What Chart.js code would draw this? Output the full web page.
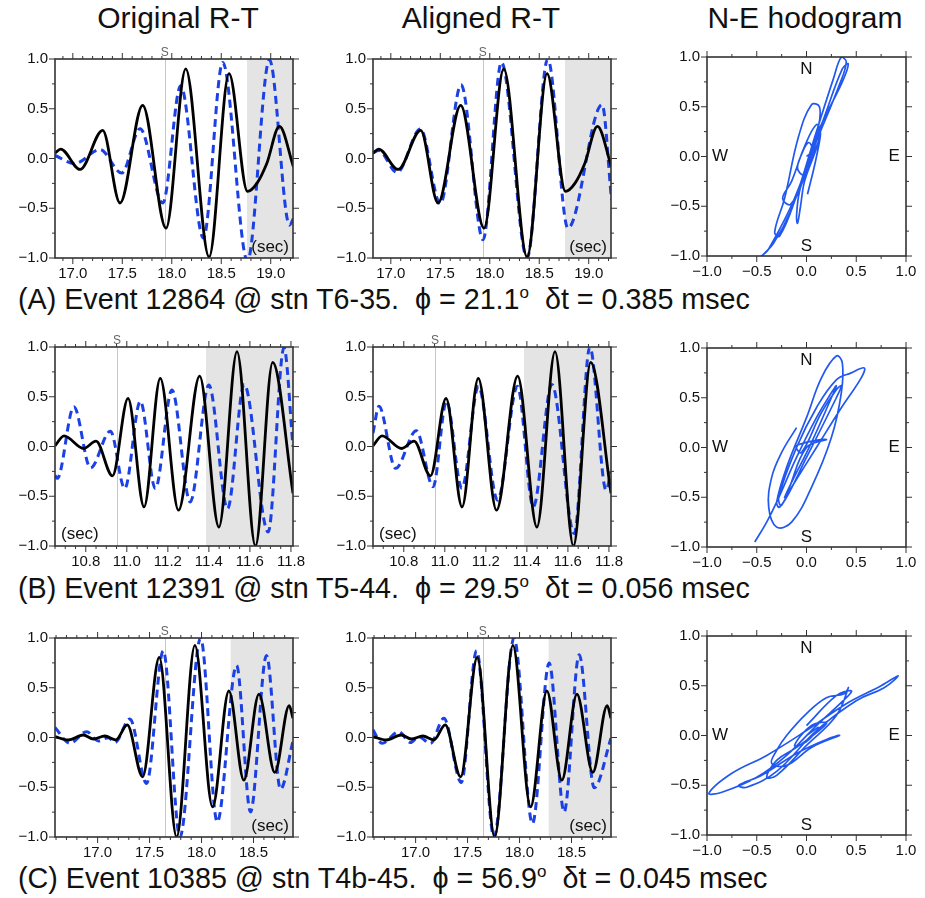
<!DOCTYPE html>
<html>
<head>
<meta charset="utf-8">
<script src="https://cdn.jsdelivr.net/npm/chart.js@4.4.0/dist/chart.umd.min.js"></script>
<style>
  body { margin: 0; width: 925px; height: 898px; overflow: hidden; background: #fff; position: relative;
         font-family: 'Liberation Sans', Arial, Helvetica, sans-serif; color: #111; }
  canvas { position: absolute; }
  .title { position: absolute; top: 3px; width: 320px; margin-left: -160px; text-align: center;
           font-size: 30px; line-height: 30px; }
  .caption { position: absolute; left: 18px; font-size: 28.7px; line-height: 28px; white-space: pre; }
  .deg { position: relative; top: -11px; font-size: 17px; }
</style>
</head>
<body>
<div class="title" style="left:178px">Original R-T</div>
<div class="title" style="left:481px">Aligned R-T</div>
<div class="title" style="left:805px">N-E hodogram</div>
<div class="caption" style="top:285px">(A) Event 12864 @ stn T6-35.  ϕ = 21.1<span class="deg">o</span>  δt = 0.385 msec</div>
<div class="caption" style="top:574px">(B) Event 12391 @ stn T5-44.  ϕ = 29.5<span class="deg">o</span>  δt = 0.056 msec</div>
<div class="caption" style="top:864px">(C) Event 10385 @ stn T4b-45.  ϕ = 56.9<span class="deg">o</span>  δt = 0.045 msec</div>

<script>
// ---- data (tijd in s, amplitude genormaliseerd) ----

// (A) event 12864
const blackA_t = [16.82, 16.877, 17.073, 17.302, 17.477, 17.706, 17.942, 18.141, 18.377, 18.579, 18.765, 18.86, 18.96, 19.088, 19.23];
const blackA_v = [0.055, 0.095, -0.11, 0.283, -0.447, 0.534, -0.70, 0.90, -0.99, 0.853, -0.33, -0.25, -0.05, 0.323, -0.085];
const blueA_t = [16.82, 17.022, 17.275, 17.494, 17.68, 17.909, 18.09, 18.32, 18.515, 18.765, 18.987, 19.19, 19.23];
const blueA_v = [0.03, -0.05, 0.09, -0.146, 0.30, -0.447, 0.732, -0.80, 0.966, -1.03, 0.993, -0.67, -0.60];
const blueAlignA_t = [16.82, 16.877, 17.063, 17.30, 17.50, 17.71, 17.932, 18.118, 18.377, 18.586, 18.79, 19.135, 19.23];
const blueAlignA_v = [0.055, 0.08, -0.14, 0.297, -0.454, 0.74, -0.816, 0.966, -1.0, 1.0, -0.70, 0.54, -0.414];
const hodoA = [[0,0],[0.06,0.06],[0.02,0.14],[-0.05,0.02],[-0.09,-0.12],[-0.03,-0.18],[0.06,0.02],[0.14,0.22],
  [0.1,0.32],[-0.02,0.1],[-0.15,-0.25],[-0.24,-0.42],[-0.16,-0.48],[-0.02,-0.2],[0.12,0.3],[0.13,0.5],[0.05,0.52],
  [-0.08,0.2],[-0.22,-0.42],[-0.32,-0.76],[-0.27,-0.8],[-0.12,-0.45],[0.1,0.25],[0.27,0.78],[0.35,1.0],[0.4,0.95],
  [0.33,0.72],[0.08,0.1],[-0.16,-0.55],[-0.33,-0.87],[-0.45,-1.0],[-0.38,-0.93],[-0.12,-0.42],[0.18,0.4],[0.36,0.88],
  [0.42,0.93],[0.36,0.75],[0.14,0.3],[0.04,0.0],[-0.07,-0.35],[-0.1,-0.6],[-0.09,-0.67],[-0.06,-0.5],[-0.02,-0.25],
  [0.1,0.08],[0.14,0.22],[0.09,-0.05],[0.01,-0.38]];

// (B) event 12391
const blackB_t = [10.65, 10.694, 10.79, 10.85, 10.93, 11.006, 11.084, 11.163, 11.252, 11.355, 11.449, 11.537, 11.627, 11.711, 11.81];
const blackB_v = [0.007, 0.107, -0.02, 0.054, -0.295, 0.483, -0.607, 0.685, -0.64, 0.708, -0.81, 0.953, -1.0, 0.846, -0.47];
const blueB_t = [10.65, 10.661, 10.742, 10.823, 10.92, 10.99, 11.066, 11.139, 11.22, 11.309, 11.40, 11.491, 11.572, 11.689, 11.766, 11.81];
const blueB_v = [-0.29, -0.32, 0.40, -0.215, 0.154, -0.423, 0.456, -0.423, 0.567, -0.557, 0.617, -0.624, 0.624, -0.86, 0.993, 0.0];
const blueAlignB_t = [10.65, 10.679, 10.76, 10.861, 10.943, 11.008, 11.083, 11.164, 11.257, 11.354, 11.431, 11.522, 11.631, 11.707, 11.786, 11.81];
const blueAlignB_v = [0.135, 0.404, -0.219, 0.158, -0.404, 0.455, -0.42, 0.606, -0.539, 0.606, -0.606, 0.623, -0.875, 1.0, -0.438, -0.25];
const hodoB = [[-0.52,-0.95],[-0.4,-0.75],[-0.3,-0.55],[-0.1,-0.1],[0.1,0.3],[0.25,0.55],[0.3,0.62],[0.25,0.5],
  [0.05,0.05],[-0.15,-0.35],[-0.22,-0.5],[-0.18,-0.42],[0.0,0.0],[0.2,0.08],[-0.1,0.02],[-0.05,-0.05],[0.15,0.35],
  [0.3,0.58],[0.35,0.62],[0.3,0.5],[0.0,-0.1],[-0.25,-0.58],[-0.28,-0.5],[-0.1,0.0],[0.1,0.4],[0.3,0.68],[0.45,0.75],
  [0.58,0.8],[0.55,0.7],[0.35,0.4],[0.1,0.0],[-0.15,-0.4],[-0.27,-0.6],[-0.3,-0.55],[-0.2,-0.2],[0.0,0.3],[0.15,0.7],
  [0.3,0.92],[0.36,0.85],[0.35,0.55],[0.25,0.1],[0.05,-0.4],[-0.15,-0.75],[-0.3,-0.8],[-0.38,-0.6],[-0.35,-0.3],
  [-0.25,-0.05],[-0.1,0.2]];

// (C) event 10385
const blackC_t = [16.59, 16.718, 16.862, 16.959, 17.07, 17.176, 17.285, 17.433, 17.593, 17.76, 17.936, 18.106, 18.263, 18.407, 18.552, 18.705, 18.843, 18.88];
const blackC_v = [0.008, -0.025, 0.025, -0.015, 0.015, -0.025, 0.126, -0.395, 0.805, -1.0, 0.926, -0.697, 0.469, -0.429, 0.435, -0.351, 0.321, 0.193];
const blueC_t = [16.59, 16.734, 16.894, 17.007, 17.103, 17.167, 17.311, 17.471, 17.632, 17.792, 17.991, 18.151, 18.337, 18.471, 18.625, 18.76, 18.88];
const blueC_v = [0.10, -0.059, 0.059, -0.035, -0.002, -0.05, 0.187, -0.462, 0.872, -1.0, 1.0, -0.849, 0.724, -0.748, 0.825, -0.519, -0.035];
const blueAlignC_t = [16.59, 16.677, 16.838, 16.95, 17.03, 17.143, 17.272, 17.439, 17.587, 17.754, 17.947, 18.124, 18.285, 18.429, 18.574, 18.719, 18.88];
const blueAlignC_v = [0.076, -0.059, 0.059, -0.05, 0.008, -0.059, 0.193, -0.452, 0.872, -1.0, 1.0, -0.866, 0.748, -0.748, 0.832, -0.506, -0.008];
const hodoC = [[0,0],[0.12,0.08],[0.0,-0.06],[-0.12,-0.1],[0.05,0.1],[0.2,0.12],[-0.1,-0.12],[-0.3,-0.25],[-0.4,-0.42],
  [-0.3,-0.4],[0.0,-0.1],[0.3,0.2],[0.42,0.48],[0.38,0.42],[0.2,0.38],[0.0,0.22],[-0.2,0.0],[-0.3,-0.15],[-0.35,-0.28],
  [-0.2,-0.3],[0.05,-0.12],[0.33,0.0],[0.2,-0.04],[-0.1,-0.18],[-0.45,-0.4],[-0.68,-0.5],[-0.6,-0.52],[-0.3,-0.36],
  [0.1,0.05],[0.5,0.35],[0.78,0.48],[0.92,0.6],[0.75,0.5],[0.4,0.32],[0.0,0.05],[-0.4,-0.2],[-0.75,-0.38],[-0.98,-0.58],
  [-0.85,-0.57],[-0.5,-0.42],[-0.2,-0.2],[0.1,0.1],[0.4,0.38],[0.45,0.45],[0.3,0.4],[0.0,0.1]];

// S-aankomst en grijs venster per event
const sPick = [17.93, 10.952, 17.645];
const shadeStart = [18.76, 11.386, 18.28];

// ---- stijl ----
const FONT = "'Liberation Sans', Arial, Helvetica, sans-serif";
const BLUE = '#1b40e4';
const HODO_BLUE = '#2158ef';

function fmtTick(v) {
  const s = (Math.abs(v) < 1e-9 ? 0 : v).toFixed(1);
  return s.replace('-', '\u2212');
}

function toPoints(t, v) {
  return t.map((x, i) => ({ x: x, y: v[i] }));
}

function tickVals(min, max, step) {
  const out = [];
  for (let k = Math.ceil(min / step - 1e-6); k * step <= max + 1e-6; k++) out.push(k * step);
  return out;
}

/* GMT-achtig kader: schaduw, S-lijn, kader met tickjes aan alle kanten, teksten */
const gmtFrame = {
  id: 'gmtFrame',
  beforeDatasetsDraw(chart, args, o) {
    const { ctx, chartArea: a, scales: { x } } = chart;
    ctx.save();
    if (o.shadeFrom != null) {
      const px = x.getPixelForValue(o.shadeFrom);
      ctx.fillStyle = '#e4e4e4';
      ctx.fillRect(px, a.top, a.right - px, a.bottom - a.top);
    }
    if (o.sLine != null) {
      const px = Math.round(x.getPixelForValue(o.sLine)) + 0.5;
      ctx.strokeStyle = '#c6c6c6';
      ctx.lineWidth = 1;
      ctx.beginPath(); ctx.moveTo(px, a.top); ctx.lineTo(px, a.bottom); ctx.stroke();
    }
    ctx.restore();
  },
  afterDraw(chart, args, o) {
    const { ctx, chartArea: a, scales: { x, y } } = chart;
    ctx.save();
    ctx.strokeStyle = '#333';
    ctx.lineWidth = 1;
    const isMajor = (v, m) => Math.abs(v / m - Math.round(v / m)) < 1e-6;
    tickVals(x.min, x.max, o.xMinor).forEach(v => {
      const px = x.getPixelForValue(v);
      const len = isMajor(v, o.xMajor) ? 6 : 3;
      ctx.beginPath();
      ctx.moveTo(px, a.bottom); ctx.lineTo(px, a.bottom + len);
      ctx.moveTo(px, a.top); ctx.lineTo(px, a.top - len);
      ctx.stroke();
    });
    tickVals(y.min, y.max, o.yMinor).forEach(v => {
      const py = y.getPixelForValue(v);
      const len = isMajor(v, o.yMajor) ? 6 : 3;
      ctx.beginPath();
      ctx.moveTo(a.left, py); ctx.lineTo(a.left - len, py);
      ctx.moveTo(a.right, py); ctx.lineTo(a.right + len, py);
      ctx.stroke();
    });
    ctx.lineWidth = 1.6;
    ctx.strokeRect(a.left, a.top, a.right - a.left, a.bottom - a.top);

    if (o.sLine != null) {
      ctx.fillStyle = '#666';
      ctx.font = '12px ' + FONT;
      ctx.textAlign = 'center';
      ctx.textBaseline = 'bottom';
      ctx.fillText('S', x.getPixelForValue(o.sLine), a.top);
    }
    if (o.sec) {
      ctx.fillStyle = '#111';
      ctx.font = '17px ' + FONT;
      ctx.textBaseline = 'alphabetic';
      if (o.sec === 'right') { ctx.textAlign = 'right'; ctx.fillText('(sec)', a.right - 4, a.bottom - 6); }
      else { ctx.textAlign = 'left'; ctx.fillText('(sec)', a.left + 6, a.bottom - 7); }
    }
    if (o.compass) {
      ctx.fillStyle = '#111';
      ctx.font = '17px ' + FONT;
      ctx.textAlign = 'center';
      ctx.textBaseline = 'middle';
      ctx.fillText('N', x.getPixelForValue(0), y.getPixelForValue(0.88));
      ctx.fillText('S', x.getPixelForValue(0), y.getPixelForValue(-0.9));
      ctx.fillText('W', x.getPixelForValue(-0.87), y.getPixelForValue(0));
      ctx.fillText('E', x.getPixelForValue(0.88), y.getPixelForValue(0));
    }
    ctx.restore();
  }
};

function addCanvas(left, top, w, h) {
  const cv = document.createElement('canvas');
  cv.width = w; cv.height = h;
  cv.style.left = left + 'px';
  cv.style.top = top + 'px';
  document.body.appendChild(cv);
  return cv;
}

function xAxis(min, max, step) {
  return {
    type: 'linear', min: min, max: max,
    grid: { display: false, drawTicks: false }, border: { display: false },
    ticks: { stepSize: step, includeBounds: false, autoSkip: false, maxRotation: 0, padding: 7,
             color: '#111', font: { family: FONT, size: 15 }, callback: fmtTick },
    afterFit: s => { s.height = 30; }
  };
}

function yAxis() {
  return {
    type: 'linear', min: -1, max: 1,
    grid: { display: false, drawTicks: false }, border: { display: false },
    ticks: { stepSize: 0.5, includeBounds: false, autoSkip: false, padding: 7,
             color: '#111', font: { family: FONT, size: 15 }, callback: fmtTick },
    afterFit: s => { s.width = 50; }
  };
}

const PLOT_W = 238, PLOT_H = 199, HODO_W = 199;

function wavePanel(plotLeft, plotTop, xr, blackPts, bluePts, sLine, shadeFrom, sec) {
  const cv = addCanvas(plotLeft - 50, plotTop - 20, PLOT_W + 70, PLOT_H + 50);
  return new Chart(cv, {
    type: 'line',
    data: { datasets: [
      { data: blackPts, borderColor: '#000', borderWidth: 2.8, pointRadius: 0,
        cubicInterpolationMode: 'monotone', order: 0 },
      { data: bluePts, borderColor: BLUE, borderWidth: 3, borderDash: [8, 5], pointRadius: 0,
        cubicInterpolationMode: 'monotone', order: 1 }
    ]},
    options: {
      responsive: false, animation: false, events: [],
      layout: { padding: { top: 20, right: 20, left: 0, bottom: 0 } },
      plugins: {
        legend: { display: false }, tooltip: { enabled: false },
        gmtFrame: { xMajor: xr.step, xMinor: xr.minor, yMajor: 0.5, yMinor: 0.25,
                    sLine: sLine, shadeFrom: shadeFrom, sec: sec }
      },
      scales: { x: xAxis(xr.min, xr.max, xr.step), y: yAxis() }
    },
    plugins: [gmtFrame]
  });
}

function hodoPanel(plotLeft, plotTop, pairs) {
  const cv = addCanvas(plotLeft - 50, plotTop - 20, HODO_W + 69, PLOT_H + 50);
  return new Chart(cv, {
    type: 'scatter',
    data: { datasets: [
      { data: pairs.map(p => ({ x: p[0], y: p[1] })), showLine: true, borderColor: HODO_BLUE,
        borderWidth: 1.7, pointRadius: 0, tension: 0.4 }
    ]},
    options: {
      responsive: false, animation: false, events: [],
      layout: { padding: { top: 20, right: 19, left: 0, bottom: 0 } },
      plugins: {
        legend: { display: false }, tooltip: { enabled: false },
        gmtFrame: { xMajor: 0.5, xMinor: 0.25, yMajor: 0.5, yMinor: 0.25, compass: true }
      },
      scales: { x: xAxis(-1, 1, 0.5), y: yAxis() }
    },
    plugins: [gmtFrame]
  });
}

// ---- panelen ----
const xrA = { min: 16.82, max: 19.225, step: 0.5, minor: 0.1 };
const xrB = { min: 10.65, max: 11.81, step: 0.2, minor: 0.05 };
const xrC = { min: 16.59, max: 18.88, step: 0.5, minor: 0.1 };

const blackA = toPoints(blackA_t, blackA_v);
const blackB = toPoints(blackB_t, blackB_v);
const blackC = toPoints(blackC_t, blackC_v);

wavePanel(55, 59, xrA, blackA, toPoints(blueA_t, blueA_v), sPick[0], shadeStart[0], 'right');
wavePanel(373, 59, xrA, blackA, toPoints(blueAlignA_t, blueAlignA_v), sPick[0], shadeStart[0], 'right');
hodoPanel(707, 57, hodoA);

wavePanel(55, 347, xrB, blackB, toPoints(blueB_t, blueB_v), sPick[1], shadeStart[1], 'left');
wavePanel(373, 347, xrB, blackB, toPoints(blueAlignB_t, blueAlignB_v), sPick[1], shadeStart[1], 'left');
hodoPanel(707, 348, hodoB);

wavePanel(55, 638, xrC, blackC, toPoints(blueC_t, blueC_v), sPick[2], shadeStart[2], 'right');
wavePanel(373, 638, xrC, blackC, toPoints(blueAlignC_t, blueAlignC_v), sPick[2], shadeStart[2], 'right');
hodoPanel(707, 636, hodoC);
</script>
</body>
</html>
